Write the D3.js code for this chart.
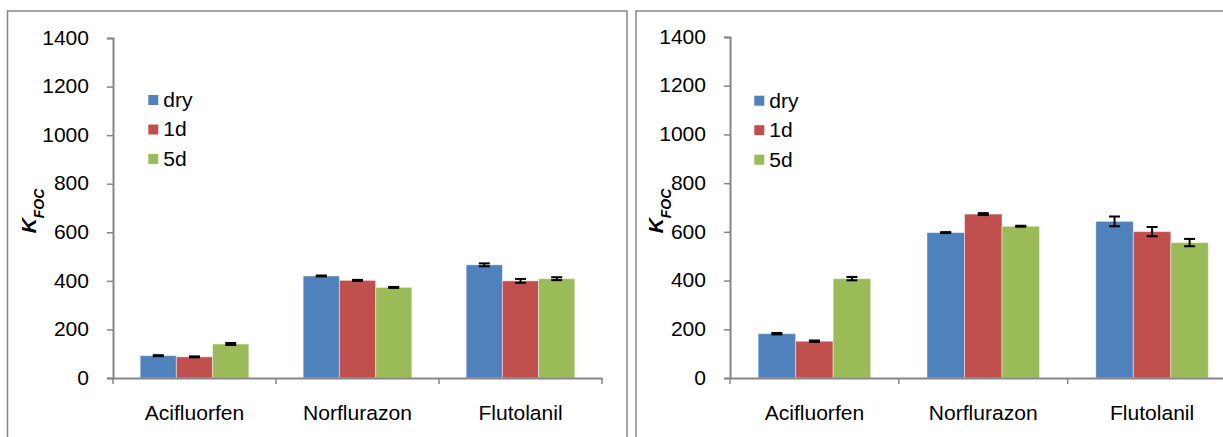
<!DOCTYPE html>
<html>
<head>
<meta charset="utf-8">
<script src="https://cdn.jsdelivr.net/npm/d3@7"></script>
<style>
  html, body { margin: 0; padding: 0; background: #fff; }
  svg { display: block; }
  text { font-family: "Liberation Sans", Arial, sans-serif; fill: #000; }
</style>
</head>
<body>
<svg id="chart" width="1223" height="437"></svg>
<script>
// ---------- data ----------
const categories = ["Acifluorfen", "Norflurazon", "Flutolanil"];
const seriesNames = ["dry", "1d", "5d"];
const seriesColors = ["#4F81BD", "#C0504D", "#9BBB59"];
const yTicks = [0, 200, 400, 600, 800, 1000, 1200, 1400];

// left panel
const leftDry = [92, 420, 466];
const leftDryErr = [2, 2, 6];
const left1d = [87, 402, 400];
const left1dErr = [2, 2, 8];
const left5d = [140, 373, 409];
const left5dErr = [4, 2, 6];

// right panel
const rightDry = [182, 597, 643];
const rightDryErr = [3, 2, 20];
const right1d = [151, 673, 601];
const right1dErr = [3, 4, 19];
const right5d = [408, 623, 556];
const right5dErr = [7, 2, 15];

// ---------- drawing ----------
const svg = d3.select("#chart");
const STRETCH = 1.08;
const FONT = 19.5;
const AXIS = "#868686";

function stretch(sel) {
  sel.each(function () {
    const t = d3.select(this);
    const x = +t.attr("x") || 0;
    t.attr("x", x / STRETCH);
    const tr = t.attr("transform") || "";
    t.attr("transform", (tr + " scale(" + STRETCH + ",1)").trim());
  });
}

function panel(cfg) {
  const g = svg.append("g");
  // frame
  g.append("rect")
    .attr("x", cfg.frame[0]).attr("y", cfg.frame[1])
    .attr("width", cfg.frame[2]).attr("height", cfg.frame[3])
    .attr("fill", "none").attr("stroke", AXIS).attr("stroke-width", 1.5);

  const x = d3.scaleBand().domain(categories)
    .range([cfg.x0, cfg.x1]).paddingInner(1 / 3).paddingOuter(1 / 6);
  const xs = d3.scaleBand().domain(seriesNames).range([0, x.bandwidth()]);
  const y = d3.scaleLinear().domain([0, 1400]).range([cfg.y0, cfg.y1]);

  const rows = [];
  cfg.values.forEach((vals, si) => {
    vals.forEach((v, ci) => rows.push({ c: categories[ci], s: seriesNames[si], si, v, e: cfg.errors[si][ci] }));
  });

  // bars
  g.append("g").selectAll("rect").data(rows).join("rect")
    .attr("x", d => x(d.c) + xs(d.s))
    .attr("y", d => y(d.v))
    .attr("width", xs.bandwidth())
    .attr("height", d => y(0) - y(d.v))
    .attr("fill", d => seriesColors[d.si])
    .attr("stroke", "rgba(255,255,255,0.45)")
    .attr("stroke-width", 1);

  // error bars
  const eb = g.append("g").attr("stroke", "#000").attr("stroke-width", 2);
  rows.forEach(d => {
    const cx = x(d.c) + xs(d.s) + xs.bandwidth() / 2;
    const hi = y(d.v + d.e), lo = y(d.v - d.e);
    eb.append("line").attr("x1", cx).attr("x2", cx).attr("y1", hi).attr("y2", lo);
    eb.append("line").attr("x1", cx - 5.5).attr("x2", cx + 5.5).attr("y1", hi).attr("y2", hi);
    eb.append("line").attr("x1", cx - 5.5).attr("x2", cx + 5.5).attr("y1", lo).attr("y2", lo);
  });

  // y axis
  const ya = g.append("g").attr("transform", `translate(${cfg.x0},0)`)
    .call(d3.axisLeft(y).tickValues(yTicks).tickSize(6).tickPadding(18).tickFormat(d3.format("d")));
  ya.select(".domain").attr("stroke", AXIS).attr("stroke-width", 2);
  ya.selectAll(".tick line").attr("stroke", AXIS).attr("stroke-width", 1.5);
  ya.selectAll("text").style("font-size", FONT + "px").style("font-family", "Liberation Sans, Arial, sans-serif");
  stretch(ya.selectAll("text"));

  // x axis
  const xa = g.append("g").attr("transform", `translate(0,${cfg.y0})`)
    .call(d3.axisBottom(x).tickSize(0).tickPadding(28.5));
  xa.select(".domain").attr("stroke", AXIS).attr("stroke-width", 2);
  xa.selectAll("text").style("font-size", FONT + "px").style("font-family", "Liberation Sans, Arial, sans-serif");
  stretch(xa.selectAll("text"));
  // category boundary ticks
  const bounds = d3.range(categories.length + 1).map(i => cfg.x0 + i * x.step());
  xa.append("g").selectAll("line").data(bounds).join("line")
    .attr("x1", d => d).attr("x2", d => d).attr("y1", 0).attr("y2", 6)
    .attr("stroke", AXIS).attr("stroke-width", 1.5);

  // legend
  const lg = g.append("g");
  seriesNames.forEach((s, i) => {
    const yy = cfg.legend[1] + i * 29.5;
    lg.append("rect").attr("x", cfg.legend[0]).attr("y", yy)
      .attr("width", 10).attr("height", 10).attr("fill", seriesColors[i]);
    lg.append("text").attr("x", cfg.legend[0] + 15).attr("y", yy + 5).attr("dy", "0.35em")
      .style("font-size", FONT + "px").text(s);
  });
  stretch(lg.selectAll("text"));

  // y axis title
  const t = g.append("text")
    .attr("transform", `translate(${cfg.title[0]},${cfg.title[1]}) rotate(-90)`)
    .attr("text-anchor", "middle")
    .style("font-weight", "bold").style("font-style", "italic").style("font-size", "21px");
  t.append("tspan").text("K");
  t.append("tspan").attr("baseline-shift", "sub").style("font-size", "14px").text("FOC");
}

panel({
  frame: [7.5, 11, 619.5, 440],
  x0: 113, x1: 602, y0: 378, y1: 38,
  values: [leftDry, left1d, left5d],
  errors: [leftDryErr, left1dErr, left5dErr],
  legend: [148.3, 95],
  title: [36, 211]
});

panel({
  frame: [636, 11, 600, 440],
  x0: 730, x1: 1236.5, y0: 378, y1: 37,
  values: [rightDry, right1d, right5d],
  errors: [rightDryErr, right1dErr, right5dErr],
  legend: [754.3, 95.7],
  title: [663, 211]
});
</script>
</body>
</html>
